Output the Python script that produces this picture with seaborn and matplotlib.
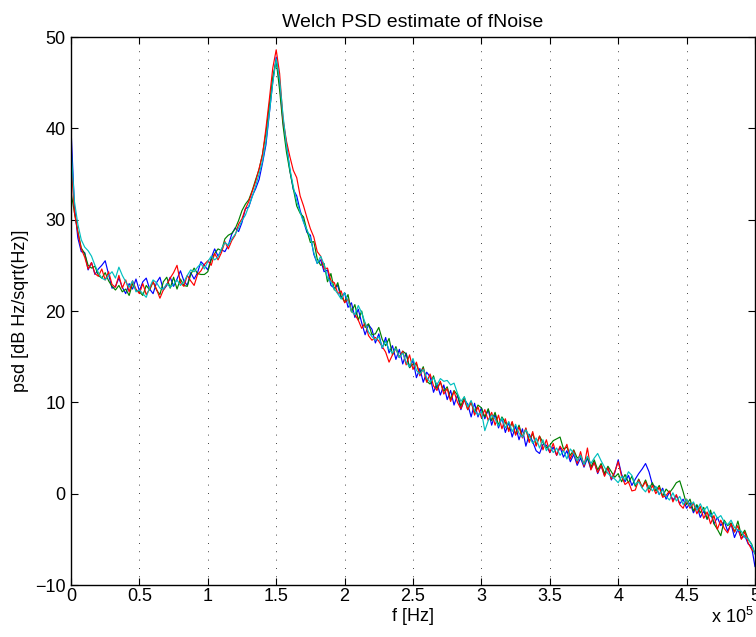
import numpy as np
import pandas as pd
import matplotlib
matplotlib.use("Agg")
import matplotlib.pyplot as plt
import seaborn as sns
from matplotlib.ticker import FuncFormatter

# frequency grid: 0 .. 5e5 Hz in 2500 Hz steps (201 bins)
freq_hz = np.arange(201) * 2500.0

psd_blue = [
    40.0, 31.5, 28.0, 26.5, 26.4, 24.5, 25.3, 24.0, 24.6, 25.0,
    25.5, 24.0, 22.5, 22.7, 23.6, 22.6, 21.9, 23.0, 22.4, 23.5,
    22.2, 23.2, 23.6, 22.4, 21.9, 23.1, 23.7, 22.3, 22.8, 23.7,
    22.7, 23.5, 24.4, 23.3, 22.8, 24.2, 23.5, 24.2, 25.4, 25.0,
    24.5, 25.8, 26.8, 26.0, 26.7, 26.5, 27.2, 28.4, 29.1, 28.7,
    29.7, 31.2, 31.4, 32.6, 33.4, 34.4, 36.2, 38.2, 41.7, 45.1,
    47.8, 44.9, 40.7, 38.3, 35.4, 33.3, 32.6, 31.0, 29.8, 28.6,
    28.3, 26.2, 25.2, 25.6, 24.3, 24.5, 22.8, 22.5, 22.8, 21.4,
    22.0, 20.4, 20.9, 19.3, 20.2, 18.7, 17.4, 18.5, 18.0, 16.5,
    17.5, 15.9, 17.1, 15.4, 16.2, 14.7, 15.8, 14.2, 15.4, 13.8,
    14.6, 12.7, 13.7, 12.2, 13.3, 12.8, 11.1, 12.1, 10.8, 11.9,
    10.3, 11.3, 9.7, 10.8, 9.2, 10.3, 9.8, 8.4, 9.9, 8.4,
    9.4, 8.2, 9.2, 7.5, 8.7, 7.2, 8.3, 6.7, 7.8, 6.2,
    7.4, 5.9, 7.1, 5.2, 6.5, 5.7, 4.7, 4.4, 5.4, 5.3,
    4.5, 5.1, 4.2, 5.1, 4.0, 4.7, 3.5, 4.3, 3.1, 3.9,
    2.9, 3.9, 2.7, 3.5, 2.2, 3.1, 2.0, 2.9, 1.5, 2.3,
    3.7, 2.1, 1.3, 2.0, 0.9, 1.6, 2.2, 2.7, 3.3, 2.4,
    1.0, 0.7, -0.1, 0.6, -0.6, 0.2, -0.7, -0.2, -1.1, -0.6,
    -1.6, -1.0, -2.1, -1.3, -2.6, -1.9, -2.8, -2.1, -3.3, -2.6,
    -3.5, -3.0, -4.1, -3.3, -4.8, -3.9, -4.9, -4.6, -5.5, -5.8,
    -8.0,
]

psd_green = [
    33.0, 30.8, 28.7, 26.9, 26.3, 25.0, 24.7, 24.9, 23.9, 23.6,
    24.2, 23.3, 22.7, 22.3, 22.8, 22.1, 22.4, 21.7, 23.0, 22.3,
    22.1, 21.7, 22.8, 22.3, 23.2, 22.3, 21.8, 23.2, 23.7, 22.5,
    23.7, 22.4, 23.5, 22.8, 22.7, 24.0, 24.7, 24.1, 24.0, 24.0,
    24.3, 25.6, 26.3, 26.8, 26.6, 27.9, 28.3, 28.5, 29.0, 29.9,
    31.0, 31.7, 32.2, 33.2, 34.4, 35.5, 37.2, 39.5, 42.6, 45.6,
    47.4, 44.2, 40.3, 37.4, 35.3, 33.4, 31.5, 30.7, 30.3, 28.8,
    27.5, 27.6, 25.7, 25.0, 25.2, 23.2, 24.1, 22.3, 23.1, 21.6,
    21.0, 21.8, 19.9, 20.7, 19.0, 20.0, 18.2, 18.6, 17.4, 17.5,
    18.2, 16.9, 16.2, 17.0, 15.2, 16.1, 14.9, 15.6, 15.3, 13.8,
    14.2, 14.2, 13.1, 13.9, 12.3, 12.0, 12.9, 11.5, 12.2, 11.2,
    11.7, 10.3, 11.3, 10.8, 9.6, 10.6, 9.2, 10.0, 8.9, 9.7,
    9.4, 8.4, 9.3, 8.0, 8.9, 7.5, 8.4, 7.8, 7.0, 7.8,
    6.5, 7.5, 6.2, 7.1, 5.7, 6.6, 5.3, 6.3, 5.6, 5.0,
    5.3, 5.8, 6.0, 6.2, 4.9, 5.1, 4.2, 4.8, 3.9, 4.1,
    3.2, 4.0, 2.9, 3.7, 2.6, 3.3, 2.2, 3.0, 2.4, 1.8,
    2.2, 1.3, 2.1, 1.2, 1.9, 0.8, 1.6, 0.7, 1.5, 0.5,
    1.2, 0.3, 0.9, -0.3, 0.5, 0.1, 0.6, 1.2, 1.4, 0.2,
    -1.2, -0.6, -1.9, -1.2, -2.1, -1.5, -2.8, -1.8, -3.3, -3.9,
    -4.6, -2.9, -3.5, -3.2, -4.2, -3.0, -4.6, -4.0, -5.0, -5.5,
    -6.6,
]

psd_red = [
    36.5, 30.8, 28.6, 26.8, 25.9, 24.6, 25.3, 24.1, 23.8, 24.6,
    23.4, 24.3, 22.9, 22.6, 23.9, 22.5, 23.4, 22.1, 23.3, 22.4,
    21.9, 23.0, 21.8, 22.4, 23.2, 22.4, 21.4, 22.3, 22.9, 23.6,
    24.2, 25.0, 23.1, 22.7, 23.9, 23.3, 22.8, 24.0, 24.4, 25.1,
    25.5, 25.0, 26.3, 25.6, 26.4, 27.6, 26.8, 27.7, 28.3, 29.5,
    30.1, 31.2, 32.0, 33.1, 34.2, 35.6, 37.1, 40.0, 43.2, 46.6,
    48.6, 46.0, 41.0, 38.6, 36.9, 35.4, 34.6, 32.6, 31.5, 30.2,
    29.0, 28.1, 26.5, 26.0, 24.6, 24.7, 23.3, 23.1, 21.9, 22.2,
    20.9, 21.3, 20.0, 19.6, 19.0, 18.1, 18.7, 17.3, 16.8, 17.1,
    16.7, 16.1, 15.5, 14.4, 15.2, 15.9, 14.9, 15.6, 14.1, 15.2,
    13.6, 14.4, 12.9, 13.7, 12.2, 13.1, 11.8, 11.3, 12.3, 10.9,
    11.5, 10.1, 11.2, 10.0, 9.3, 10.3, 9.2, 10.1, 8.6, 9.5,
    8.3, 9.2, 8.0, 8.9, 7.5, 8.6, 7.1, 8.2, 6.8, 7.9,
    6.4, 7.3, 6.1, 7.2, 5.6, 6.8, 5.2, 6.3, 4.8, 5.9,
    4.5, 5.5, 4.2, 5.2, 4.6, 5.4, 3.8, 4.7, 3.3, 4.6,
    3.0, 5.0, 2.6, 3.4, 2.3, 3.1, 1.9, 2.8, 1.6, 2.4,
    3.5, 1.9, 1.0, 1.3, 0.3, 0.4, 1.5, 0.7, 1.3, 0.1,
    0.9, 0.0, 0.7, -0.4, -0.2, 0.3, -0.9, -0.1, -1.2, -1.6,
    -0.6, -1.6, -1.0, -2.2, -1.4, -2.7, -2.0, -3.3, -2.4, -3.9,
    -2.9, -3.8, -4.3, -3.3, -4.2, -3.5, -5.0, -4.2, -5.4, -6.1,
    -6.5,
]

psd_cyan = [
    38.0, 32.0, 29.5, 27.8, 27.0, 26.6, 26.0, 25.0, 24.2, 23.6,
    23.4, 23.9, 24.3, 23.6, 24.8, 23.9, 23.2, 22.6, 23.3, 22.1,
    22.3, 21.9, 21.5, 22.6, 23.4, 23.1, 22.5, 22.4, 23.0, 22.6,
    22.9, 23.4, 22.8, 23.2, 23.9, 24.5, 24.3, 24.8, 25.2, 24.6,
    25.4, 26.0, 25.6, 25.9, 26.8, 27.5, 27.2, 27.9, 28.4, 29.1,
    29.9, 30.5, 31.5, 32.5, 33.7, 35.0, 36.4, 38.6, 41.7, 45.0,
    47.6, 45.3, 41.4, 38.1, 35.6, 33.6, 32.0, 30.8, 29.7, 28.9,
    28.0, 26.4, 25.2, 26.0, 25.1, 23.6, 23.2, 22.4, 21.9, 21.3,
    22.0, 21.1, 20.0, 19.6, 20.6, 19.8, 18.7, 17.7, 17.2, 16.8,
    17.2, 16.0, 16.7, 15.8, 15.4, 15.9, 14.9, 15.4, 14.4, 13.9,
    14.8, 13.5, 13.1, 13.6, 12.7, 12.2, 12.7, 11.9, 12.6, 12.3,
    12.4, 11.9, 12.1, 11.0, 10.1, 10.6, 9.5, 10.2, 9.1, 8.6,
    9.0, 6.9, 8.0, 8.6, 8.2, 7.4, 8.3, 7.2, 7.9, 6.8,
    7.6, 6.6, 6.2, 7.0, 6.3, 5.5, 6.1, 5.0, 5.9, 4.7,
    5.3, 4.5, 5.0, 4.2, 4.7, 3.8, 4.9, 4.4, 3.6, 4.2,
    3.2, 4.1, 3.3, 3.9, 4.4, 3.6, 2.9, 2.2, 1.9, 1.6,
    1.2, 1.9, 1.5, 2.4, 2.0, 1.0, 1.3, 0.6, 0.2, 0.9,
    0.3, 0.8, -0.1, 0.4, -0.3, -0.7, 0.1, -0.8, -0.3, -1.2,
    -0.6, -1.4, -0.9, -1.8, -1.1, -1.9, -1.4, -2.5, -2.0, -2.7,
    -2.4, -3.1, -3.4, -2.9, -3.7, -4.0, -4.1, -4.8, -4.9, -5.6,
    -6.6,
]

series_names = ["b", "g", "r", "c"]
series_colors = ["#0000ff", "#008000", "#ff0000", "#00bfbf"]
x_ticks = [0, 0.5e5, 1e5, 1.5e5, 2e5, 2.5e5, 3e5, 3.5e5, 4e5, 4.5e5, 5e5]
y_ticks = [-10, 0, 10, 20, 30, 40, 50]

frames = []
for name, vals in zip(series_names, [psd_blue, psd_green, psd_red, psd_cyan]):
    frames.append(pd.DataFrame({"f": freq_hz, "psd": vals, "s": name}))
df = pd.concat(frames, ignore_index=True)

sns.set_theme(style="white")
plt.rcParams["font.family"] = ["Liberation Sans", "DejaVu Sans"]
plt.rcParams["mathtext.fontset"] = "custom"
plt.rcParams["mathtext.rm"] = "Liberation Sans"
plt.rcParams["mathtext.it"] = "Liberation Sans"

fig = plt.figure(figsize=(7.56, 6.37), dpi=100)
ax = fig.add_axes([71 / 756, 1 - 585 / 637, 684 / 756, 548 / 637])

sns.lineplot(data=df, x="f", y="psd", hue="s", palette=dict(zip(series_names, series_colors)),
             estimator=None, sort=False, linewidth=0.85, legend=False, ax=ax)

ax.set_xlim(0, 5e5)
ax.set_ylim(-10, 50)
ax.set_xticks(x_ticks)
ax.set_yticks(y_ticks)
ax.xaxis.set_major_formatter(FuncFormatter(lambda v, p: f"{v / 1e5:g}"))
for xt in x_ticks[1:-1]:
    ax.axvline(xt, color="black", linewidth=0.6, linestyle=(0, (1, 9)), zorder=0)

ax.tick_params(direction="in", length=5, width=0.8, colors="black", labelsize=13,
               top=True, right=True, bottom=True, left=True)
ax.tick_params(axis="x", pad=2)
ax.tick_params(axis="y", pad=4)
for sp in ax.spines.values():
    sp.set_color("black")
    sp.set_linewidth(1.0)
    sp.set_visible(True)

ax.set_xlabel("f [Hz]", fontsize=13, color="black", labelpad=2)
ax.set_ylabel("psd [dB Hz/sqrt(Hz)]", fontsize=13, color="black", labelpad=4)
ax.set_title("Welch PSD estimate of fNoise", fontsize=14, color="black", pad=7)
ax.text(0.998, -0.040, r"x 10$^{5}$", transform=ax.transAxes, ha="right", va="top",
        fontsize=13, color="black")

fig.savefig("out.png", dpi=100, facecolor="white")
